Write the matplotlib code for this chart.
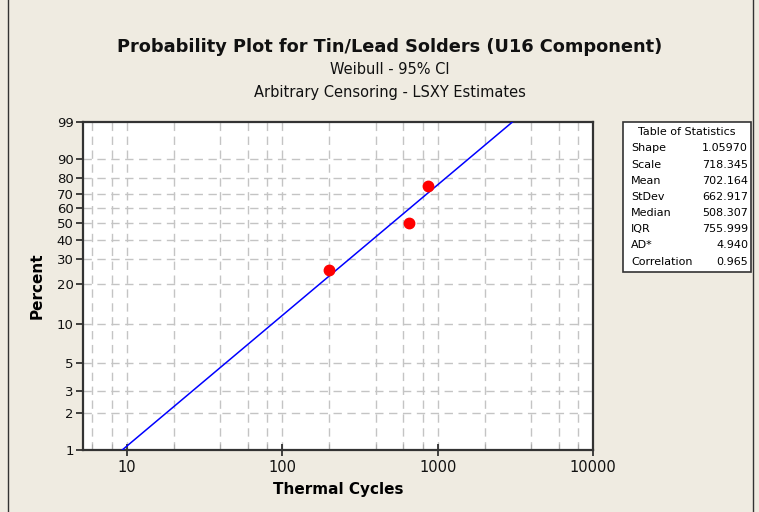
import numpy as np
import matplotlib
matplotlib.use("Agg")
import matplotlib.pyplot as plt
from matplotlib.lines import Line2D

# ---- data ----
thermal_cycles = [200, 655, 863]
percent = [25, 50, 75]
shape = 1.05970
scale = 718.345
stat_names = ["Shape", "Scale", "Mean", "StDev", "Median", "IQR", "AD*", "Correlation"]
stat_values = ["1.05970", "718.345", "702.164", "662.917", "508.307", "755.999", "4.940", "0.965"]
y_ticks = [1, 2, 3, 5, 10, 20, 30, 40, 50, 60, 70, 80, 90, 99]
x_major = [10, 100, 1000, 10000]
x_minor = [6, 8, 20, 40, 60, 80, 200, 400, 600, 800, 2000, 4000, 6000, 8000]

W, H = 759, 512
bg = "#EFEBE1"
fig = plt.figure(figsize=(W / 100, H / 100), dpi=100, facecolor=bg)

def fx(px):
    return px / W

def fy(py):
    return 1 - py / H

left, right, top, bottom = 83.3, 593.3, 121.7, 450.0
ax = fig.add_axes([fx(left), fy(bottom), fx(right) - fx(left), fy(top) - fy(bottom)])
ax.set_facecolor("white")

def fwd(p):
    p = np.clip(np.asarray(p, dtype=float), 1e-9, 100 - 1e-9)
    return np.log(-np.log(1 - p / 100.0))

def inv(z):
    return 100.0 * (1 - np.exp(-np.exp(z)))

ax.set_xscale("log")
ax.set_yscale("function", functions=(fwd, inv))
ax.set_xlim(5.26, 10000)
ax.set_ylim(1, 99)

# grid
gcol = "#C4C4C4"
for xv in x_major + x_minor:
    ax.axvline(xv, color=gcol, lw=1, ls=(0, (6, 4)), zorder=1)
for yv in y_ticks[1:-1]:
    ax.axhline(yv, color=gcol, lw=1, ls=(0, (6, 4)), zorder=1)

# fitted line from parameters
p_lo, p_hi = 1.0, 99.0
x_lo = scale * (-np.log(1 - p_lo / 100)) ** (1 / shape)
x_hi = scale * (-np.log(1 - p_hi / 100)) ** (1 / shape)
xs = np.logspace(np.log10(x_lo), np.log10(x_hi), 200)
ps = 100 * (1 - np.exp(-(xs / scale) ** shape))
ax.plot(xs, ps, color="#0000FF", lw=1.1, zorder=3)

ax.plot(thermal_cycles, percent, "o", color="#FF0000", ms=7.5, mec="#FF0000", zorder=4)

# ticks
ax.set_xticks(x_major)
ax.set_xticklabels([str(v) for v in x_major])
ax.set_xticks(x_minor, minor=True)
ax.set_xticklabels([], minor=True)
ax.set_yticks(y_ticks)
ax.set_yticklabels([str(v) for v in y_ticks])
ax.yaxis.set_minor_locator(matplotlib.ticker.NullLocator())
ax.tick_params(axis="x", which="major", direction="inout", length=8, width=1.2,
               color="#222222", labelsize=10.5, pad=3, labelcolor="#111111")
ax.tick_params(axis="x", which="minor", direction="in", length=4, width=0.8, color="#AAAAAA")
ax.tick_params(axis="y", which="major", direction="out", length=5, width=1.2,
               color="#222222", labelsize=9.5, pad=2, labelcolor="#111111")

for s in ax.spines.values():
    s.set_color("#333333")
    s.set_linewidth(1.6)

ax.set_xlabel("Thermal Cycles", fontsize=11, fontweight="bold", labelpad=5)
ax.set_ylabel("Percent", fontsize=11, fontweight="bold", labelpad=9)

# titles
fig.text(fx(390), fy(47), "Probability Plot for Tin/Lead Solders (U16 Component)",
         ha="center", va="center", fontsize=12.8, fontweight="bold", color="#111111")
fig.text(fx(390), fy(70), "Weibull - 95% CI", ha="center", va="center", fontsize=10.5, color="#111111")
fig.text(fx(390), fy(92), "Arbitrary Censoring - LSXY Estimates", ha="center", va="center",
         fontsize=10.5, color="#111111")

# statistics table
tl, tr, tt, tb = 623, 751, 122, 272
tab = plt.Rectangle((fx(tl), fy(tb)), fx(tr) - fx(tl), fy(tt) - fy(tb), transform=fig.transFigure,
                    facecolor="white", edgecolor="#333333", lw=1.2)
fig.patches.append(tab)
fig.text(fx((tl + tr) / 2), fy(132), "Table of Statistics", ha="center", va="center", fontsize=8)
for i, (n, v) in enumerate(zip(stat_names, stat_values)):
    yy = 148.3 + i * 16.2
    fig.text(fx(631), fy(yy), n, ha="left", va="center", fontsize=8)
    fig.text(fx(748), fy(yy), v, ha="right", va="center", fontsize=8)

# frame border
fig.add_artist(Line2D([fx(7.5), fx(7.5)], [0, 1], transform=fig.transFigure, color="#333333", lw=1))
fig.add_artist(Line2D([fx(752.5), fx(752.5)], [0, 1], transform=fig.transFigure, color="#333333", lw=1))

fig.savefig("out.png", dpi=100, facecolor=bg)
